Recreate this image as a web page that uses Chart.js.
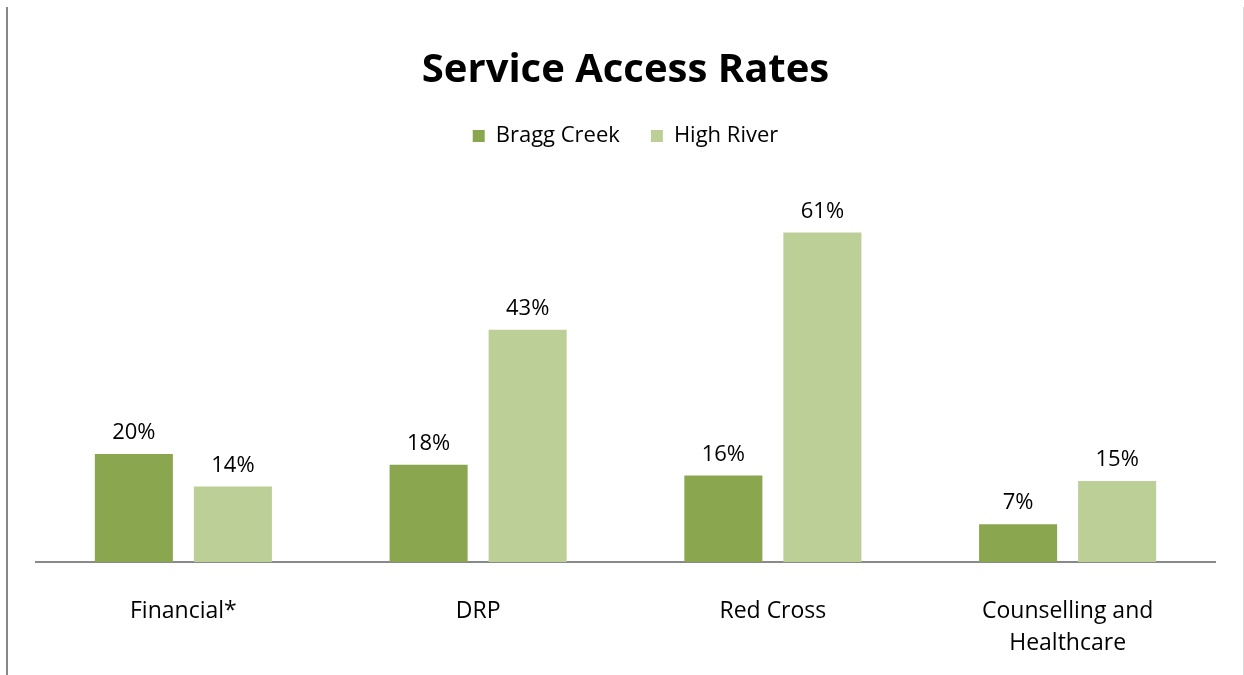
<!DOCTYPE html>
<html>
<head>
<meta charset="utf-8">
<title>Service Access Rates</title>
<script src="https://cdn.jsdelivr.net/npm/chart.js@4.4.1/dist/chart.umd.min.js"></script>
<style>
  html, body { margin: 0; padding: 0; background: #fff; }
  #wrap { width: 1244px; height: 675px; }
</style>
</head>
<body>
<div id="wrap"><canvas id="myChart" width="1244" height="675"></canvas></div>
<script>
var categories = ['Financial*', 'DRP', 'Red Cross', ['Counselling and', 'Healthcare']];
var braggCreek = [20, 18, 16, 7];
var highRiver = [14, 43, 61, 15];

var FONT = "'Open Sans', 'Noto Sans', sans-serif";

// value labels above each bar
var barLabels = {
  id: 'barLabels',
  afterDatasetsDraw: function (chart) {
    var c = chart.ctx;
    c.save();
    c.font = '22px ' + FONT;
    c.fillStyle = '#000';
    c.textAlign = 'center';
    c.textBaseline = 'middle';
    chart.data.datasets.forEach(function (ds, i) {
      chart.getDatasetMeta(i).data.forEach(function (bar, j) {
        c.fillText(ds.data[j] + '%', bar.x, bar.y - 21);
      });
    });
    c.restore();
  }
};

// thin frame lines at the left and right edges
var frame = {
  id: 'frame',
  beforeDraw: function (chart) {
    var c = chart.ctx;
    c.save();
    c.strokeStyle = '#878787';
    c.lineWidth = 2;
    c.beginPath();
    c.moveTo(7, 7);
    c.lineTo(7, 675);
    c.stroke();
    c.strokeStyle = '#d9d9d9';
    c.lineWidth = 1;
    c.beginPath();
    c.moveTo(1243.5, 7);
    c.lineTo(1243.5, 675);
    c.stroke();
    c.restore();
  }
};

var ctx = document.getElementById('myChart').getContext('2d');
var myChart = new Chart(ctx, {
  type: 'bar',
  data: {
    labels: categories,
    datasets: [{
      label: 'Bragg Creek',
      data: braggCreek,
      backgroundColor: '#8aa64e'
    }, {
      label: 'High River',
      data: highRiver,
      backgroundColor: '#bbcf97'
    }]
  },
  options: {
    responsive: false,
    animation: false,
    categoryPercentage: 0.672,
    barPercentage: 0.788,
    layout: {
      padding: { top: 37, left: 36, right: 29, bottom: 18 }
    },
    plugins: {
      title: {
        display: true,
        text: 'Service Access Rates',
        color: '#000',
        font: { family: FONT, size: 40, weight: 'bold', lineHeight: 1.2 },
        padding: { top: 10, bottom: -1 }
      },
      legend: {
        display: true,
        labels: {
          color: '#000',
          font: { family: FONT, size: 22 },
          boxWidth: 12,
          boxHeight: 12,
          padding: 31
        }
      },
      tooltip: { enabled: false }
    },
    scales: {
      x: {
        grid: { display: false, drawTicks: false },
        border: { color: '#898989', width: 2 },
        ticks: {
          color: '#000',
          font: { family: FONT, size: 23, lineHeight: 1.4 },
          padding: 33,
          maxRotation: 0
        },
        afterFit: function (scale) {
          scale.height = 95;
        }
      },
      y: {
        display: false,
        min: 0,
        max: 75
      }
    }
  },
  plugins: [barLabels, frame]
});
</script>
</body>
</html>
